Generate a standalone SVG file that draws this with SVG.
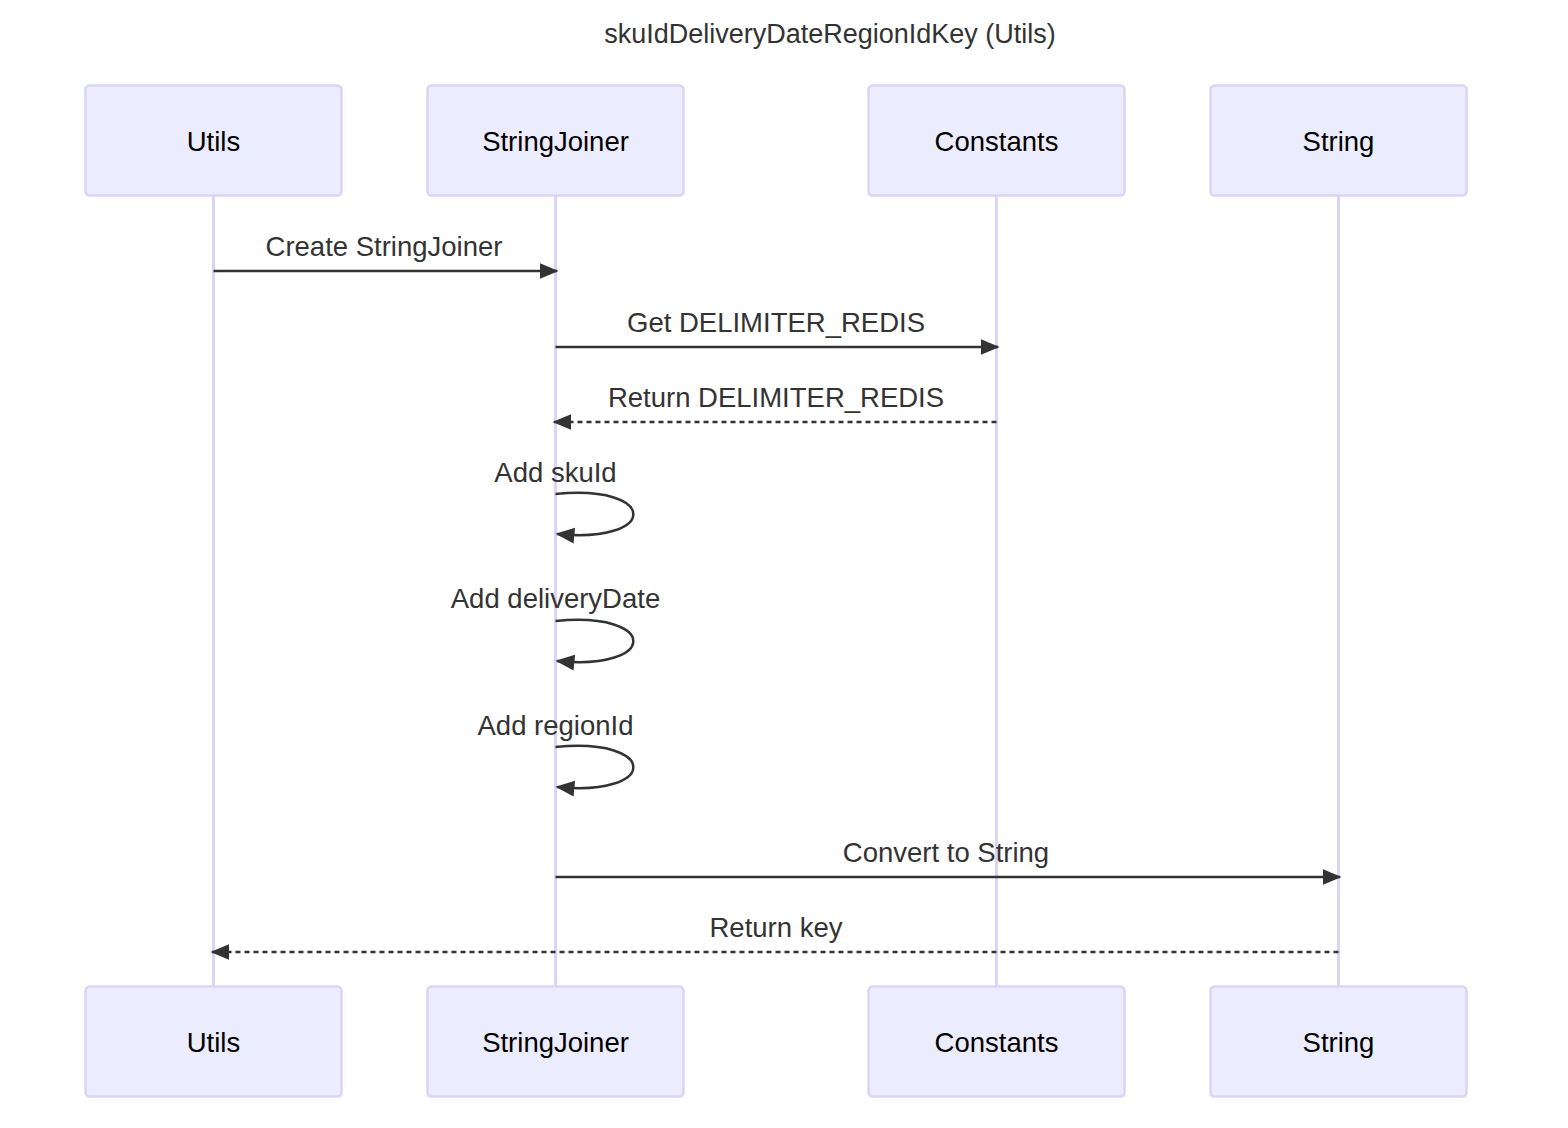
<svg xmlns="http://www.w3.org/2000/svg" width="1568" height="1128" viewBox="0 0 1568 1128">
  <style>
    text { font-family: "Liberation Sans", Arial, sans-serif; fill: #333333; }
    .actor rect { fill: #ECECFF; stroke: #DCD3F7; stroke-width: 2.5; }
    .actor text { font-size: 27.5px; fill: #000000; text-anchor: middle; dominant-baseline: central; }
    .lifeline { stroke: #DCD3F7; stroke-width: 3; }
    .msg { stroke: #333333; stroke-width: 2.5; fill: none; }
    .dashed { stroke-dasharray: 5 4; }
    .label { font-size: 27.5px; text-anchor: middle; }
    .title { font-size: 27px; text-anchor: middle; }
  </style>
  <defs>
    <marker id="arrowhead" viewBox="0 0 12 10" refX="11" refY="5" markerUnits="userSpaceOnUse" markerWidth="19" markerHeight="17" orient="auto">
      <path d="M0,0 L12,5 L0,10 z" fill="#333333"/>
    </marker>
  </defs>
  <rect width="1568" height="1128" fill="#ffffff"/>
  <text class="title" x="830" y="43">skuIdDeliveryDateRegionIdKey (Utils)</text>

  <g id="lifelines">
    <line class="lifeline" x1="213.5" y1="196" x2="213.5" y2="986"/>
    <line class="lifeline" x1="555.5" y1="196" x2="555.5" y2="986"/>
    <line class="lifeline" x1="996.5" y1="196" x2="996.5" y2="986"/>
    <line class="lifeline" x1="1338.5" y1="196" x2="1338.5" y2="986"/>
  </g>

  <g id="actor-utils" class="actor">
    <rect x="85.5" y="85.5" width="256" height="110" rx="4"/>
    <text x="213.5" y="141">Utils</text>
    <rect x="85.5" y="986.5" width="256" height="110" rx="4"/>
    <text x="213.5" y="1042">Utils</text>
  </g>
  <g id="actor-stringjoiner" class="actor">
    <rect x="427.5" y="85.5" width="256" height="110" rx="4"/>
    <text x="555.5" y="141">StringJoiner</text>
    <rect x="427.5" y="986.5" width="256" height="110" rx="4"/>
    <text x="555.5" y="1042">StringJoiner</text>
  </g>
  <g id="actor-constants" class="actor">
    <rect x="868.5" y="85.5" width="256" height="110" rx="4"/>
    <text x="996.5" y="141">Constants</text>
    <rect x="868.5" y="986.5" width="256" height="110" rx="4"/>
    <text x="996.5" y="1042">Constants</text>
  </g>
  <g id="actor-string" class="actor">
    <rect x="1210.5" y="85.5" width="256" height="110" rx="4"/>
    <text x="1338.5" y="141">String</text>
    <rect x="1210.5" y="986.5" width="256" height="110" rx="4"/>
    <text x="1338.5" y="1042">String</text>
  </g>

  <g id="messages">
    <text class="label" x="384" y="256">Create StringJoiner</text>
    <line class="msg" x1="213.5" y1="271" x2="557" y2="271" marker-end="url(#arrowhead)"/>

    <text class="label" x="776" y="332">Get DELIMITER_REDIS</text>
    <line class="msg" x1="555.5" y1="347" x2="998" y2="347" marker-end="url(#arrowhead)"/>

    <text class="label" x="776" y="407">Return DELIMITER_REDIS</text>
    <line class="msg dashed" x1="996.5" y1="422" x2="554" y2="422" marker-end="url(#arrowhead)"/>

    <text class="label" x="555.5" y="482">Add skuId</text>
    <path class="msg" d="M555.5,494 C659,484 659,544 557,534" marker-end="url(#arrowhead)"/>

    <text class="label" x="555.5" y="608">Add deliveryDate</text>
    <path class="msg" d="M555.5,621 C659,611 659,671 557,661" marker-end="url(#arrowhead)"/>

    <text class="label" x="555.5" y="735">Add regionId</text>
    <path class="msg" d="M555.5,747 C659,737 659,797 557,787" marker-end="url(#arrowhead)"/>

    <text class="label" x="946" y="862">Convert to String</text>
    <line class="msg" x1="555.5" y1="877" x2="1340" y2="877" marker-end="url(#arrowhead)"/>

    <text class="label" x="776" y="937">Return key</text>
    <line class="msg dashed" x1="1338.5" y1="952" x2="212" y2="952" marker-end="url(#arrowhead)"/>
  </g>
</svg>
